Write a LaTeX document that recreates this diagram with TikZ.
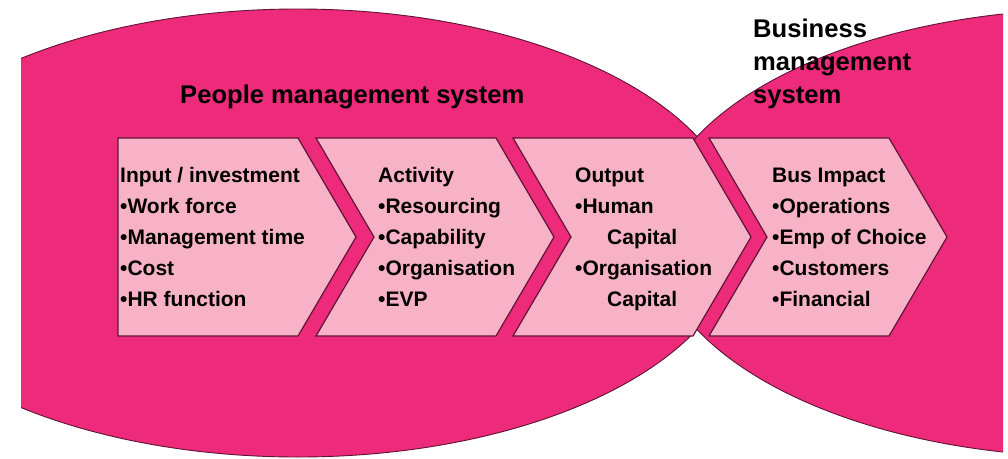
\documentclass[tikz,border=0pt]{standalone}
\usepackage{fontspec}
\setmainfont{Liberation Sans}
\definecolor{hotpink}{RGB}{238,42,123}
\definecolor{chevfill}{RGB}{248,178,199}
\definecolor{edge}{RGB}{95,20,52}
\begin{document}
\begin{tikzpicture}[x=1pt,y=-1pt,
  bubble/.style={fill=hotpink, draw=edge, line width=0.9pt},
  chevron/.style={fill=chevfill, draw=edge, line width=1.2pt, line join=miter},
  steptext/.style={anchor=base west, inner sep=0pt,
    font=\bfseries\fontsize{21}{31}\selectfont},
  heading/.style={anchor=base west, inner sep=0pt,
    font=\bfseries\fontsize{25.6}{33}\selectfont}]
\useasboundingbox (0,0) rectangle (1008,458);

% the two overlapping system areas, cut off at the page sides
\begin{scope}
  \clip (21,0) rectangle (1003,458);
  \draw[bubble] (298,233) ellipse [x radius=442pt, y radius=224pt];
  \draw[bubble] (1096,233) ellipse [x radius=442pt, y radius=224pt];
\end{scope}

% value chain chevrons
\draw[chevron] (118,138) -- (298,138) -- (356,237) -- (298,336) -- (118,336) -- cycle;
\draw[chevron] (316,138) -- (496,138) -- (554,237) -- (496,336) -- (316,336) -- (374,237) -- cycle;
\draw[chevron] (513,138) -- (693,138) -- (751,237) -- (693,336) -- (513,336) -- (571,237) -- cycle;
\draw[chevron] (709,138) -- (889,138) -- (947,237) -- (889,336) -- (709,336) -- (767,237) -- cycle;

% system titles
\node[heading] (people) at (180,103) {People management system};
\node[heading] (business) at (753,37)
  {\begin{tabular}[t]{@{}l@{}}Business\\management\\system\end{tabular}};

% chevron contents
\node[steptext] (input) at (120,182)
  {\begin{tabular}[t]{@{}l@{}}Input / investment\\•Work force\\•Management time\\•Cost\\•HR function\end{tabular}};
\node[steptext] (activity) at (378,182)
  {\begin{tabular}[t]{@{}l@{}}Activity\\•Resourcing\\•Capability\\•Organisation\\•EVP\end{tabular}};
\node[steptext] (output) at (575,182)
  {\begin{tabular}[t]{@{}l@{}}Output\\•Human\\\hspace*{32pt}Capital\\•Organisation\\\hspace*{32pt}Capital\end{tabular}};
\node[steptext] (impact) at (772,182)
  {\begin{tabular}[t]{@{}l@{}}Bus Impact\\•Operations\\•Emp of Choice\\•Customers\\•Financial\end{tabular}};
\end{tikzpicture}
\end{document}
